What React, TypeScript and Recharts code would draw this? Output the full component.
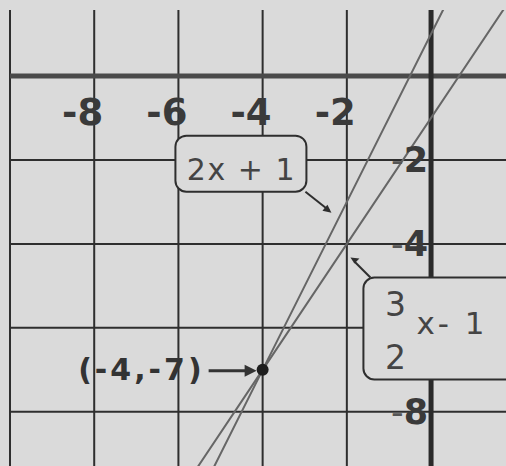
import React from 'react';
import { LineChart, Line, XAxis, YAxis, ReferenceLine, ReferenceDot } from 'recharts';

// Tick labels printed beside the axes
const xTickLabels = [-8, -6, -4, -2];
const yTickLabels = [-2, -4, -8];

// Graph-paper rulings (every 2 units)
const gridX = [-10, -8, -6, -4, -2];
const gridY = [-2, -4, -6, -8];

// y = 2x + 1
const lineSteep = [
  { x: -5.5, y: -10 },
  { x: -4, y: -7 },
  { x: 0.5, y: 2 },
];
// y = 3/2 x - 1
const lineGentle = [
  { x: -6, y: -10 },
  { x: -4, y: -7 },
  { x: 2, y: 2 },
];
// where the two lines meet
const solution = { x: -4, y: -7 };

const PAPER = '#dadada';
const INK = '#2e2e2e';
const PEN = '#666666';
const FONT = '"DejaVu Sans", Verdana, sans-serif';

const XTickMark = (props: any) => {
  const { cx, cy, value } = props;
  return (
    <text x={cx + 9} y={cy + 49} textAnchor="end" fontFamily={FONT} fontWeight={700} fontSize={37} fill="#3a3a3a">
      {value}
    </text>
  );
};

const YTickMark = (props: any) => {
  const { cx, cy, value } = props;
  return (
    <text x={cx - 3} y={cy + 12} textAnchor="end" fontFamily={FONT} fontSize={35} fill="#3a3a3a">
      <tspan fontWeight={400} fill="#555">-</tspan>
      <tspan fontWeight={700}>{Math.abs(value)}</tspan>
    </text>
  );
};

const SteepNote = (props: any) => {
  const { cx, cy } = props;
  return (
    <g>
      <rect x={cx - 163} y={cy - 83} width={131} height={56} rx={11} fill={PAPER} stroke={INK} strokeWidth={2} />
      <text x={cx - 97} y={cy - 39} textAnchor="middle" fontFamily={FONT} fontSize={30} fill="#444" letterSpacing={1.5}>
        2x + 1
      </text>
      <line x1={cx - 33} y1={cy - 27} x2={cx - 9} y2={cy - 8} stroke={INK} strokeWidth={2} />
      <path d={`M ${cx - 7} ${cy - 6} l -9 -2 l 5 -6 z`} fill={INK} />
    </g>
  );
};

const GentleNote = (props: any) => {
  const { cx, cy } = props;
  return (
    <g>
      <rect x={cx + 25} y={cy + 21} width={160} height={102} rx={11} fill={PAPER} stroke={INK} strokeWidth={2} />
      <text x={cx + 57} y={cy + 60} textAnchor="middle" fontFamily={FONT} fontSize={33} fill="#444">3</text>
      <text x={cx + 57} y={cy + 113} textAnchor="middle" fontFamily={FONT} fontSize={33} fill="#444">2</text>
      <text x={cx + 78} y={cy + 78} fontFamily={FONT} fontSize={31} fill="#444" letterSpacing={3}>x- 1</text>
      <line x1={cx + 32} y1={cy + 21} x2={cx + 16} y2={cy + 5} stroke={INK} strokeWidth={2} />
      <path d={`M ${cx + 12} ${cy + 1} l 9 1 l -5 5 z`} fill={INK} />
    </g>
  );
};

const SolutionNote = (props: any) => {
  const { cx, cy } = props;
  return (
    <g>
      <circle cx={cx} cy={cy} r={6} fill="#1e1e1e" />
      <text x={cx - 58} y={cy + 10} textAnchor="end" fontFamily={FONT} fontWeight={700} fontSize={30} fill="#333" letterSpacing={3}>
        (-4,-7)
      </text>
      <line x1={cx - 54} y1={cy + 1} x2={cx - 14} y2={cy + 1} stroke="#333" strokeWidth={3} />
      <path d={`M ${cx - 6} ${cy + 1} l -12 -6 l 0 12 z`} fill="#333" />
    </g>
  );
};

export default function App() {
  return (
    <div style={{ position: 'absolute', left: 0, top: 0, width: 506, height: 466, background: PAPER, overflow: 'hidden' }}>
      <LineChart width={506} height={466} margin={{ top: 10, right: 0, bottom: 0, left: 10 }}>
        <XAxis type="number" dataKey="x" domain={[-10, 1.78]} allowDataOverflow hide />
        <YAxis type="number" dataKey="y" domain={[-9.29, 1.57]} allowDataOverflow hide />

        {gridX.map((v) => (
          <ReferenceLine key={`gx${v}`} x={v} stroke={INK} strokeWidth={2} />
        ))}
        {gridY.map((v) => (
          <ReferenceLine key={`gy${v}`} y={v} stroke={INK} strokeWidth={2} />
        ))}
        <ReferenceLine y={0} stroke="#4a4a4a" strokeWidth={5} />
        <ReferenceLine x={0} stroke="#2a2a2a" strokeWidth={5} />

        {xTickLabels.map((v) => (
          <ReferenceDot key={`xt${v}`} x={v} y={0} r={0} shape={(p: any) => <XTickMark {...p} value={v} />} />
        ))}
        {yTickLabels.map((v) => (
          <ReferenceDot key={`yt${v}`} x={0} y={v} r={0} shape={(p: any) => <YTickMark {...p} value={v} />} />
        ))}

        <Line data={lineSteep} dataKey="y" stroke={PEN} strokeWidth={2} dot={false} isAnimationActive={false} />
        <Line data={lineGentle} dataKey="y" stroke={PEN} strokeWidth={2} dot={false} isAnimationActive={false} />

        <ReferenceDot x={-2.2} y={-3.4} r={0} shape={(p: any) => <SteepNote {...p} />} />
        <ReferenceDot x={-2.2} y={-4.3} r={0} shape={(p: any) => <GentleNote {...p} />} />
        <ReferenceDot x={solution.x} y={solution.y} r={0} shape={(p: any) => <SolutionNote {...p} />} />
      </LineChart>
    </div>
  );
}
